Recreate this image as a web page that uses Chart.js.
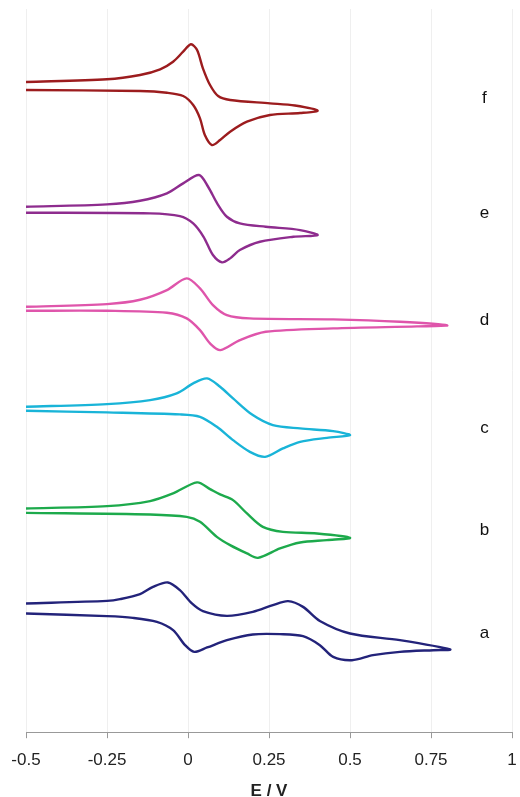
<!DOCTYPE html>
<html>
<head>
<meta charset="utf-8">
<script src="https://cdn.jsdelivr.net/npm/chart.js@4/dist/chart.umd.min.js"></script>
<style>
  html, body { margin: 0; padding: 0; background: #fff; }
  #wrap { width: 520px; height: 797px; position: relative; }
</style>
</head>
<body>
<div id="wrap"><canvas id="cv"></canvas></div>
<script>
// curve names, colours and vertical stacking offsets (a at the bottom)
const names = ['a', 'b', 'c', 'd', 'e', 'f'];
const colors = ['#23237a', '#1daa4c', '#19b4d8', '#df55ab', '#8e2c8e', '#9c1c1e'];
const offsets = [118.7, 219.3, 321.3, 421.3, 519.3, 642];
const labelY = [99, 202, 304, 412, 519, 634];
const labelE = 0.915;

// E (V) and current (arb. units) for each voltammogram, read as a closed loop
const aE = [-0.5, -0.25, -0.21, -0.148, -0.108, -0.062, -0.025, 0.012, 0.046, 0.12, 0.2, 0.262, 0.309, 0.355, 0.407, 0.5, 0.654, 0.809,
            0.757, 0.654, 0.571, 0.506, 0.448, 0.407, 0.355, 0.284, 0.2, 0.12, 0.059, 0.019, -0.009, -0.046, -0.096, -0.17, -0.25, -0.5];
const aI = [10, 12.6, 14.3, 19.3, 26.6, 31, 23.3, 10, 2.3, -2.4, 1.6, 8.3, 12.3, 6.6, -7.5, -20, -26.7, -36,
            -36.7, -38.4, -41.7, -46.7, -43.4, -31.7, -22.7, -20.7, -21, -26.7, -34, -38.4, -31.7, -16.7, -8.4, -4.4, -2.7, 0];

const bE = [-0.5, -0.25, -0.117, -0.046, 0.028, 0.068, 0.099, 0.139, 0.182, 0.231, 0.293, 0.398, 0.5,
            0.429, 0.346, 0.284, 0.216, 0.182, 0.13, 0.089, 0.037, -0.004, -0.117, -0.5];
const bI = [4.4, 6.7, 11.7, 19.4, 30.4, 23.7, 18.4, 12.7, -0.6, -14, -19, -20.6, -25,
            -27.3, -29.6, -35.6, -45, -40.6, -32.3, -24, -9, -4, -1.6, 0];

const cE = [-0.5, -0.25, -0.117, -0.035, 0.016, 0.059, 0.099, 0.139, 0.2, 0.262, 0.346, 0.448, 0.5,
            0.429, 0.346, 0.293, 0.238, 0.191, 0.139, 0.089, 0.037, -0.025, -0.25, -0.5];
const cI = [4, 6.7, 10.7, 17.4, 27.4, 32.4, 24, 12.4, -4.3, -14.3, -17.6, -20.3, -24.3,
            -27, -31, -37.6, -46, -41, -29.3, -16, -6, -3.6, -1.6, 0];

const dE = [-0.5, -0.25, -0.148, -0.065, -0.004, 0.037, 0.077, 0.12, 0.19, 0.448, 0.654, 0.8,
            0.707, 0.448, 0.24, 0.16, 0.1, 0.068, 0.037, -0.004, -0.065, -0.25, -0.5];
const dI = [4, 6.7, 11, 20.7, 32.4, 22.4, 5.7, -4.3, -7.6, -8.6, -11, -14.6,
            -15.6, -17.6, -21, -29.3, -39.3, -32.6, -19.3, -7.6, -2, 0, 0];

const eE = [-0.5, -0.25, -0.148, -0.065, -0.015, 0.034, 0.062, 0.09, 0.12, 0.16, 0.24, 0.346, 0.4,
            0.325, 0.222, 0.16, 0.13, 0.105, 0.077, 0.048, 0.016, -0.025, -0.117, -0.5];
const eI = [6, 8.4, 12, 19.4, 29.4, 37.7, 26, 9.4, -4, -10.6, -14, -17.3, -22.3,
            -24, -29, -37.3, -45.6, -49.6, -42.3, -24, -10.6, -3.3, -0.6, 0];

const fE = [-0.5, -0.25, -0.148, -0.086, -0.046, -0.015, 0.009, 0.028, 0.046, 0.068, 0.093, 0.13, 0.253, 0.33, 0.4,
            0.346, 0.253, 0.182, 0.13, 0.099, 0.074, 0.052, 0.037, 0.016, -0.015, -0.065, -0.148, -0.5];
const fI = [8, 10.7, 15, 20.7, 28.3, 38.3, 45.7, 40, 21.7, 5, -6, -10, -13.3, -15.5, -20.7,
            -23, -25, -31.7, -41.7, -50, -55, -45, -28.3, -15, -6, -2.7, -1, 0];

const xTicks = [-0.5, -0.25, 0, 0.25, 0.5, 0.75, 1];
const xTitle = 'E / V';

const curves = [[aE, aI], [bE, bI], [cE, cI], [dE, dI], [eE, eI], [fE, fI]];

const datasets = curves.map((c, k) => ({
    label: names[k],
    data: c[0].map((e, i) => ({ x: e, y: c[1][i] + offsets[k] })),
    borderColor: colors[k],
    borderWidth: 2.4,
    pointRadius: 0,
    showLine: true,
    fill: false,
    tension: 0.3
}));

// letters a-f at the right of each curve
const curveLabels = {
    id: 'curveLabels',
    afterDatasetsDraw(chart) {
        const ctx = chart.ctx;
        const xs = chart.scales.x, ys = chart.scales.y;
        ctx.save();
        ctx.font = '17px "Liberation Sans", Arial, sans-serif';
        ctx.fillStyle = '#111';
        ctx.textAlign = 'center';
        ctx.textBaseline = 'middle';
        names.forEach((n, k) => {
            ctx.fillText(n, xs.getPixelForValue(labelE), ys.getPixelForValue(labelY[k]));
        });
        ctx.restore();
    }
};

new Chart(document.getElementById('cv').getContext('2d'), {
    type: 'scatter',
    data: { datasets: datasets },
    options: {
        responsive: true,
        maintainAspectRatio: false,
        animation: false,
        layout: { autoPadding: false, padding: { left: 26, right: 8, top: 9, bottom: 0 } },
        plugins: { legend: { display: false }, tooltip: { enabled: false } },
        scales: {
            x: {
                type: 'linear',
                min: -0.5,
                max: 1,
                afterBuildTicks: (s) => { s.ticks = xTicks.map(v => ({ value: v })); },
                // keep the end labels from shrinking the plot area
                afterFit: (s) => { s.paddingLeft = 0; s.paddingRight = 0; },
                grid: { color: '#efefef', tickColor: '#999', tickLength: 6, lineWidth: 1 },
                border: { color: '#999', width: 1 },
                ticks: {
                    color: '#222',
                    font: { family: '"Liberation Sans", Arial, sans-serif', size: 17 },
                    padding: 12,
                    maxRotation: 0,
                    callback: (v) => String(v)
                },
                title: {
                    display: true,
                    text: xTitle,
                    color: '#222',
                    font: { family: '"Liberation Sans", Arial, sans-serif', size: 17, weight: 'bold' },
                    padding: { top: -1, bottom: -5 }
                }
            },
            y: {
                display: false,
                min: 0,
                max: 723
            }
        }
    },
    plugins: [curveLabels]
});
</script>
</body>
</html>
